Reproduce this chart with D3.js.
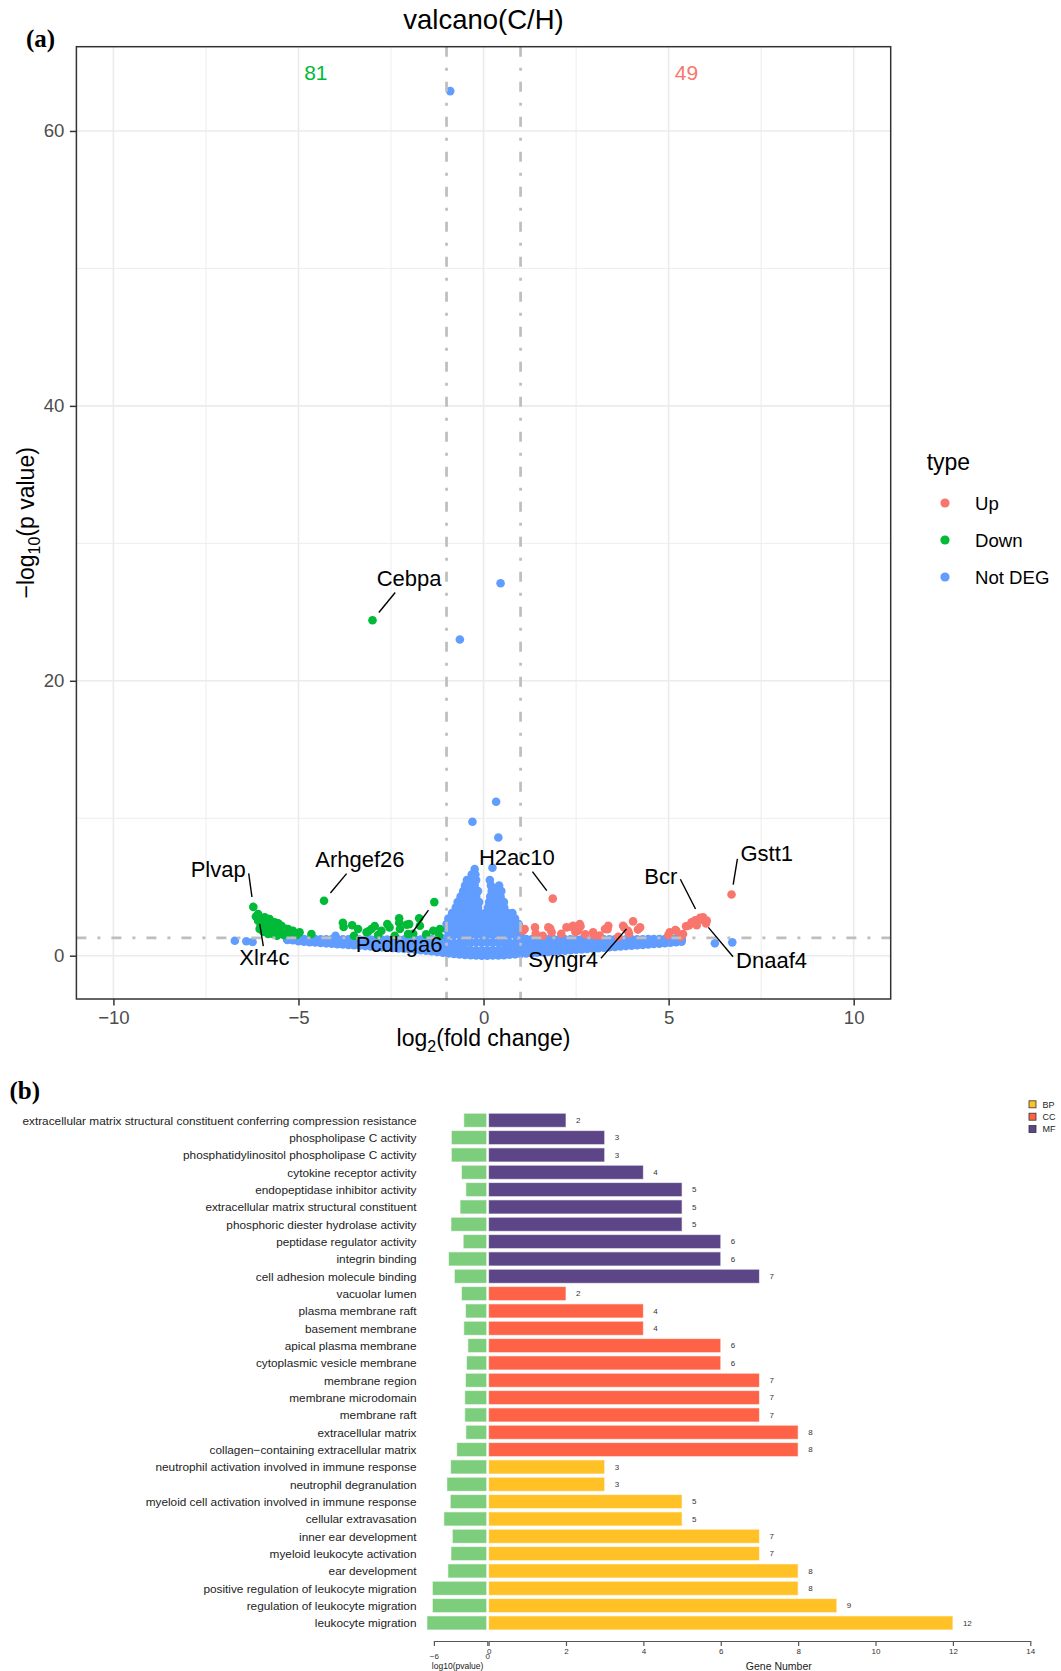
<!DOCTYPE html>
<html>
<head>
<meta charset="utf-8">
<script src="https://cdn.jsdelivr.net/npm/d3@7"></script>
<style>
  body { margin: 0; background: #fff; }
  svg { display: block; font-family: "Liberation Sans", Arial, sans-serif; }
</style>
</head>
<body>
<svg id="chart" width="1061" height="1671"></svg>
<script>
// ---------- panel (a) data : volcano ----------
const typeLevels = ["Up", "Down", "Not DEG"];
const typeColors = ["#F8766D", "#00BA38", "#619CFF"];
const downCount = 81, upCount = 49;
const fcCut = 1, pCut = 1.301;
const xTicks = [-10, -5, 0, 5, 10], xMinor = [-7.5, -2.5, 2.5, 7.5];
const yTicks = [0, 20, 40, 60], yMinor = [10, 30, 50];

const upPoints = [[1.07,1.81],[1.11,1.94],[1.39,2.06],[1.41,1.61],[1.60,1.45],[1.75,2.06],[1.80,1.98],[1.84,1.70],
  [2.10,1.60],[2.24,2.06],[2.38,2.10],[2.42,2.18],[2.48,1.73],[2.56,1.82],[2.60,2.30],[2.62,2.14],[2.75,1.55],
  [2.96,1.70],[2.98,1.49],[3.14,1.46],[3.28,1.94],[3.35,1.93],[3.37,2.18],[3.64,1.37],[3.77,2.18],[3.80,2.05],
  [3.90,1.82],[3.93,1.61],[4.04,2.50],[4.17,1.90],[4.23,2.06],[4.99,1.49],[5.03,1.70],[5.18,1.86],[5.21,1.82],
  [5.33,1.37],[5.39,1.58],[5.47,2.14],[5.55,2.20],[5.62,2.43],[5.72,2.58],[5.76,2.22],[5.85,2.75],[5.90,2.62],
  [5.93,2.79],[6.01,2.34],[6.03,2.55],[1.87,4.15],[6.70,4.45]];

const downPoints = [[-6.22,3.55],[-6.09,3.03],[-6.15,2.85],[-6.00,2.65],[-6.09,2.55],[-5.96,2.43],[-5.91,2.79],
  [-5.78,2.67],[-5.64,2.43],[-5.91,2.18],[-6.02,2.20],[-5.90,2.00],[-5.78,1.94],[-5.60,2.06],[-5.46,2.18],
  [-5.42,1.82],[-5.74,2.30],[-5.51,1.70],[-5.69,1.58],[-5.82,1.58],[-5.55,2.35],[-5.35,1.95],[-5.28,1.94],
  [-5.15,1.82],[-4.97,1.70],[-4.65,1.58],[-5.05,1.50],[-5.95,1.75],[-5.62,1.85],[-5.70,2.10],[-5.85,2.50],
  [-6.05,1.95],[-5.25,1.65],[-5.40,1.50],[-5.58,1.45],
  [-4.31,4.00],[-3.80,2.40],[-3.55,2.22],[-3.78,2.09],[-3.50,1.45],[-3.39,1.94],[-3.16,1.70],[-3.11,1.78],
  [-3.03,1.94],[-2.94,2.15],[-2.85,1.50],[-2.76,1.82],[-2.60,2.30],[-2.54,2.06],[-2.40,1.45],[-2.28,2.72],
  [-2.26,1.94],[-2.28,2.40],[-2.08,2.25],[-2.01,2.30],[-2.04,1.58],[-1.90,1.60],[-1.74,2.72],[-1.72,2.18],
  [-1.55,1.55],[-1.36,1.82],[-1.20,1.45],[-1.18,1.94],[-1.33,3.90],[-3.00,24.40]];

const notDegOutliers = [[-0.90,62.9],[0.46,27.1],[-0.64,23.0],[0.34,11.2],[-0.30,9.75],[0.40,8.6],[0.24,6.4],
  [-0.24,6.3],[-6.72,1.09],[-6.41,1.05],[-6.24,1.00],[6.25,0.90],[6.72,0.97],[-4.00,1.45]];

const notDegSpike = [
  [-1.0,1.9],[-0.85,1.9],[-0.7,1.9],[-0.55,1.9],[-0.4,1.9],[-0.25,1.9],[-0.1,1.9],[0.05,1.9],[0.2,1.9],[0.35,1.9],[0.5,1.9],[0.65,1.9],[0.8,1.9],[0.95,1.9],
  [-1.0,2.3],[-0.85,2.3],[-0.7,2.3],[-0.55,2.3],[-0.4,2.3],[-0.25,2.3],[-0.1,2.3],[0.05,2.3],[0.2,2.3],[0.35,2.3],[0.5,2.3],[0.65,2.3],[0.8,2.3],[0.95,2.3],
  [-0.95,2.7],[-0.8,2.7],[-0.65,2.7],[-0.5,2.7],[-0.35,2.7],[-0.2,2.7],[-0.05,2.7],[0.1,2.7],[0.25,2.7],[0.4,2.7],[0.55,2.7],[0.7,2.7],[0.85,2.7],
  [-0.85,3.1],[-0.7,3.1],[-0.55,3.1],[-0.4,3.1],[-0.25,3.1],[-0.1,3.1],[0.05,3.1],[0.2,3.1],[0.35,3.1],[0.5,3.1],[0.65,3.1],[0.78,3.1],
  [-0.75,3.5],[-0.6,3.5],[-0.45,3.5],[-0.3,3.5],[-0.15,3.5],[0.12,3.5],[0.27,3.5],[0.42,3.5],[0.56,3.5],
  [-0.7,3.9],[-0.55,3.9],[-0.4,3.9],[-0.25,3.9],[-0.12,3.9],[0.15,3.9],[0.3,3.9],[0.45,3.9],[0.55,3.9],
  [-0.62,4.3],[-0.48,4.3],[-0.34,4.3],[-0.2,4.3],[0.18,4.3],[0.32,4.3],[0.46,4.3],
  [-0.55,4.7],[-0.42,4.7],[-0.28,4.7],[-0.15,4.7],[0.22,4.7],[0.36,4.7],[0.48,4.7],
  [-0.5,5.1],[-0.37,5.1],[-0.24,5.1],[0.2,5.1],[0.42,5.1],
  [-0.45,5.5],[-0.32,5.5],[-0.2,5.5],[0.17,5.5],
  [-0.32,5.9],[-0.22,5.9]];

// dense band of non-significant genes, read column by column
const bandX = [-5.30,-5.15,-5.00,-4.85,-4.70,-4.55,-4.40,-4.25,-4.10,-3.95,-3.80,-3.65,-3.50,-3.35,-3.20,-3.05,
  -2.90,-2.75,-2.60,-2.45,-2.30,-2.15,-2.00,-1.85,-1.70,-1.55,-1.40,-1.25,-1.10,-0.95,-0.80,-0.65,-0.50,-0.35,
  -0.20,-0.05,0.10,0.25,0.40,0.55,0.70,0.85,1.00,1.15,1.30,1.45,1.60,1.75,1.90,2.05,2.20,2.35,2.50,2.65,2.80,
  2.95,3.10,3.25,3.40,3.55,3.70,3.85,4.00,4.15,4.30,4.45,4.60,4.75,4.90,5.05,5.20,5.35];
const bandLow = [1.15,1.12,1.05,1.02,0.99,0.96,0.93,0.90,0.87,0.84,0.81,0.78,0.76,0.73,0.70,0.67,0.64,0.62,0.59,
  0.56,0.53,0.50,0.47,0.44,0.40,0.36,0.32,0.27,0.22,0.17,0.13,0.09,0.06,0.03,0.01,0.00,0.00,0.01,0.02,0.04,0.07,
  0.10,0.13,0.16,0.19,0.22,0.25,0.28,0.31,0.34,0.37,0.40,0.43,0.46,0.49,0.52,0.55,0.58,0.61,0.64,0.67,0.70,0.73,
  0.76,0.79,0.82,0.85,0.88,0.91,0.94,0.98,1.02];
const bandMid1 = [1.18,1.16,1.12,1.10,1.08,1.05,1.03,1.00,0.98,0.96,0.94,0.92,0.90,0.88,0.86,0.84,0.82,0.80,0.78,
  0.76,0.74,0.72,0.70,0.68,0.66,0.63,0.60,0.57,0.54,0.50,0.48,0.46,0.44,0.42,0.40,0.40,0.40,0.41,0.42,0.44,0.46,
  0.48,0.50,0.52,0.54,0.56,0.58,0.60,0.62,0.64,0.66,0.68,0.70,0.72,0.74,0.76,0.78,0.80,0.82,0.84,0.86,0.88,0.90,
  0.92,0.94,0.96,0.98,1.00,1.02,1.05,1.08,1.10];
const bandMid2 = [1.20,1.19,1.17,1.16,1.15,1.13,1.12,1.10,1.09,1.08,1.07,1.06,1.04,1.03,1.02,1.01,1.00,0.99,0.98,
  0.97,0.96,0.95,0.94,0.93,0.92,0.91,0.90,0.89,0.88,0.90,0.92,0.94,0.96,0.96,0.96,0.96,0.96,0.96,0.96,0.95,0.94,
  0.92,0.90,0.88,0.88,0.88,0.89,0.90,0.91,0.92,0.93,0.94,0.95,0.96,0.97,0.98,0.99,1.00,1.01,1.02,1.03,1.04,1.05,
  1.06,1.07,1.08,1.09,1.10,1.12,1.14,1.16,1.18];
const bandHigh = [1.22,1.22,1.22,1.22,1.21,1.21,1.20,1.20,1.20,1.19,1.19,1.19,1.18,1.18,1.18,1.18,1.18,1.18,1.18,
  1.18,1.18,1.18,1.18,1.18,1.18,1.19,1.20,1.22,1.25,1.45,1.50,1.50,1.50,1.50,1.50,1.50,1.50,1.50,1.50,1.50,1.50,
  1.50,1.40,1.22,1.20,1.20,1.20,1.20,1.20,1.20,1.20,1.20,1.20,1.20,1.20,1.20,1.20,1.20,1.20,1.20,1.20,1.20,1.20,
  1.20,1.20,1.21,1.21,1.22,1.22,1.23,1.24,1.25];

const labelGenes = ["Cebpa", "Plvap", "Arhgef26", "H2ac10", "Bcr", "Gstt1", "Xlr4c", "Pcdhga6", "Syngr4", "Dnaaf4"];
const labelFC    = [-3.00, -6.22, -4.31, 1.87, 5.85, 6.70, -6.09, -1.33, 4.04, 5.90];
const labelLogP  = [24.40, 3.55, 4.00, 4.15, 2.75, 4.45, 3.03, 3.90, 2.50, 2.62];

// ---------- panel (b) data : GO enrichment ----------
const goTerms = [
  "extracellular matrix structural constituent conferring compression resistance",
  "phospholipase C activity",
  "phosphatidylinositol phospholipase C activity",
  "cytokine receptor activity",
  "endopeptidase inhibitor activity",
  "extracellular matrix structural constituent",
  "phosphoric diester hydrolase activity",
  "peptidase regulator activity",
  "integrin binding",
  "cell adhesion molecule binding",
  "vacuolar lumen",
  "plasma membrane raft",
  "basement membrane",
  "apical plasma membrane",
  "cytoplasmic vesicle membrane",
  "membrane region",
  "membrane microdomain",
  "membrane raft",
  "extracellular matrix",
  "collagen\u2212containing extracellular matrix",
  "neutrophil activation involved in immune response",
  "neutrophil degranulation",
  "myeloid cell activation involved in immune response",
  "cellular extravasation",
  "inner ear development",
  "myeloid leukocyte activation",
  "ear development",
  "positive regulation of leukocyte migration",
  "regulation of leukocyte migration",
  "leukocyte migration"];
const goCounts = [2,3,3,4,5,5,5,6,6,7, 2,4,4,6,6,7,7,7,8,8, 3,3,5,5,7,7,8,8,9,12];
const goLogP = [-2.64,-4.04,-4.04,-2.90,-2.41,-3.06,-4.08,-2.71,-4.35,-3.70,
  -2.90,-2.45,-2.64,-2.18,-2.34,-2.45,-2.53,-2.53,-2.41,-3.44,
  -4.12,-4.54,-4.16,-4.88,-3.93,-4.08,-4.43,-6.17,-6.17,-6.78];
const goClass = ["MF","MF","MF","MF","MF","MF","MF","MF","MF","MF",
  "CC","CC","CC","CC","CC","CC","CC","CC","CC","CC",
  "BP","BP","BP","BP","BP","BP","BP","BP","BP","BP"];
const classLevels = ["BP", "CC", "MF"];
const classColors = ["#FFC125", "#FF6347", "#5C4688"];
const pBarColor = "#7CCD7C";
const geneTicks = [0, 2, 4, 6, 8, 10, 12, 14];
const pTicks = [-6, 0];

// ---------- layout ----------
const A = { left: 76.4, right: 890.7, top: 46.7, bottom: 999 };
// label anchor in data units (centre x, baseline y) + where the leader leaves the label box (fraction x, fraction y)
const labelPlacement = {
  Cebpa:    [-2.01, 26.9, 0.30, 1],
  Plvap:    [-7.17, 5.70, 1, 0.59],
  Arhgef26: [-3.34, 6.45, 0.36, 1],
  H2ac10:   [0.90, 6.60, 0.69, 1],
  Bcr:      [4.79, 5.22, 1, 0.56],
  Gstt1:    [7.65, 6.89, 0, 0.66],
  Xlr4c:    [-5.92, -0.68, 0.48, 0],
  Pcdhga6:  [-2.28, 0.29, 0.64, 0],
  Syngr4:   [2.15, -0.80, 1, 0.41],
  Dnaaf4:   [7.78, -0.92, 0, 0.29]
};
const minus = d => d < 0 ? "\u2212" + Math.abs(d) : String(d);

const svg = d3.select("#chart");
svg.append("rect").attr("width", 1061).attr("height", 1671).attr("fill", "#fff");

// ================= panel (a) =================
const x = d3.scaleLinear().domain([-11, 11]).range([A.left, A.right]);
const y = d3.scaleLinear().domain([-3.15, 66.13]).range([A.bottom, A.top]);
const gA = svg.append("g");

// grid
gA.selectAll(".vminor").data(xMinor).join("line")
  .attr("x1", d => x(d)).attr("x2", d => x(d)).attr("y1", A.top).attr("y2", A.bottom)
  .attr("stroke", "#EBEBEB").attr("stroke-width", 0.9);
gA.selectAll(".hminor").data(yMinor).join("line")
  .attr("y1", d => y(d)).attr("y2", d => y(d)).attr("x1", A.left).attr("x2", A.right)
  .attr("stroke", "#EBEBEB").attr("stroke-width", 0.9);
gA.selectAll(".vmajor").data(xTicks).join("line")
  .attr("x1", d => x(d)).attr("x2", d => x(d)).attr("y1", A.top).attr("y2", A.bottom)
  .attr("stroke", "#EBEBEB").attr("stroke-width", 1.6);
gA.selectAll(".hmajor").data(yTicks).join("line")
  .attr("y1", d => y(d)).attr("y2", d => y(d)).attr("x1", A.left).attr("x2", A.right)
  .attr("stroke", "#EBEBEB").attr("stroke-width", 1.6);

// points
const bandPoints = [];
bandX.forEach((bx, i) => {
  [bandLow, bandMid1, bandMid2, bandHigh].forEach(arr => bandPoints.push([bx, arr[i]]));
});
const notDegPoints = bandPoints.concat(notDegSpike, notDegOutliers);

const layers = [[notDegPoints, typeColors[2]], [downPoints, typeColors[1]], [upPoints, typeColors[0]]];
layers.forEach(([pts, col]) => {
  gA.append("g").selectAll("circle").data(pts).join("circle")
    .attr("cx", d => x(d[0])).attr("cy", d => y(d[1])).attr("r", 4.3)
    .attr("fill", col);
});

// thresholds
const dash = "10,11,3,11";
[-fcCut, fcCut].forEach(v => {
  gA.append("line").attr("x1", x(v)).attr("x2", x(v)).attr("y1", A.top).attr("y2", A.bottom)
    .attr("stroke", "#BEBEBE").attr("stroke-width", 2.7).attr("stroke-dasharray", dash);
});
gA.append("line").attr("x1", A.left).attr("x2", A.right).attr("y1", y(pCut)).attr("y2", y(pCut))
  .attr("stroke", "#BEBEBE").attr("stroke-width", 2.7).attr("stroke-dasharray", dash);

// counts
gA.append("text").attr("x", x(-4.53)).attr("y", y(63.7)).attr("text-anchor", "middle")
  .attr("font-size", 21).attr("fill", typeColors[1]).text(downCount);
gA.append("text").attr("x", x(5.48)).attr("y", y(63.7)).attr("text-anchor", "middle")
  .attr("font-size", 21).attr("fill", typeColors[0]).text(upCount);

// gene labels with repel-style segments
labelGenes.forEach((g, i) => {
  const pos = labelPlacement[g];
  const base = y(pos[1]);
  const t = gA.append("text").attr("x", x(pos[0])).attr("y", base)
    .attr("text-anchor", "middle").attr("font-size", 22).attr("fill", "#000").text(g);
  const bb = t.node().getBBox();
  const bl = bb.x - 3, br = bb.x + bb.width + 3, bt = base - 19, bbot = base + 6.6;
  const sx = bl + pos[2] * (br - bl), sy = bt + pos[3] * (bbot - bt);
  const px = x(labelFC[i]), py = y(labelLogP[i]);
  const dx = px - sx, dy = py - sy, len = Math.hypot(dx, dy);
  if (len > 14) {
    gA.append("line").attr("x1", sx).attr("y1", sy)
      .attr("x2", px - dx / len * 10).attr("y2", py - dy / len * 10)
      .attr("stroke", "#000").attr("stroke-width", 1.4);
  }
});

// border
gA.append("rect").attr("x", A.left).attr("y", A.top)
  .attr("width", A.right - A.left).attr("height", A.bottom - A.top)
  .attr("fill", "none").attr("stroke", "#333333").attr("stroke-width", 1.5);

// axes
const styleAxis = (g, size) => {
  g.select(".domain").remove();
  g.attr("font-family", null).attr("font-size", null);
  g.selectAll(".tick line").attr("stroke", "#333333").attr("stroke-width", 1.5);
  g.selectAll(".tick text").attr("fill", "#4D4D4D").attr("font-size", size);
};
gA.append("g").attr("transform", `translate(0,${A.bottom})`)
  .call(d3.axisBottom(x).tickValues(xTicks).tickFormat(minus).tickSize(6.5).tickPadding(5.5))
  .call(g => styleAxis(g, 18.6));
gA.append("g").attr("transform", `translate(${A.left},0)`)
  .call(d3.axisLeft(y).tickValues(yTicks).tickFormat(minus).tickSize(6.5).tickPadding(5.5))
  .call(g => styleAxis(g, 18.6));

// titles
gA.append("text").attr("x", (A.left + A.right) / 2).attr("y", 29).attr("text-anchor", "middle")
  .attr("font-size", 27.5).attr("fill", "#000").text("valcano(C/H)");

const xt = gA.append("text").attr("x", (A.left + A.right) / 2).attr("y", 1046)
  .attr("text-anchor", "middle").attr("font-size", 23).attr("fill", "#000");
xt.append("tspan").text("log");
xt.append("tspan").attr("font-size", 16).attr("dy", 6).text("2");
xt.append("tspan").attr("dy", -6).text("(fold change)");

const yt = gA.append("text").attr("transform", `translate(34,${(A.top + A.bottom) / 2}) rotate(-90)`)
  .attr("text-anchor", "middle").attr("font-size", 23).attr("fill", "#000");
yt.append("tspan").text("\u2212log");
yt.append("tspan").attr("font-size", 16).attr("dy", 6).text("10");
yt.append("tspan").attr("dy", -6).text("(p value)");

// legend
gA.append("text").attr("x", 926.7).attr("y", 470).attr("font-size", 23).attr("fill", "#000").text("type");
typeLevels.forEach((lv, i) => {
  const cy = 503 + i * 37;
  gA.append("circle").attr("cx", 945).attr("cy", cy).attr("r", 4.6).attr("fill", typeColors[i]);
  gA.append("text").attr("x", 975).attr("y", cy + 6.6).attr("font-size", 18.6).attr("fill", "#000").text(lv);
});

// panel letter
svg.append("text").attr("x", 26).attr("y", 47).attr("font-family", "'Liberation Serif', 'Times New Roman', serif")
  .attr("font-weight", "bold").attr("font-size", 25).text("(a)");

// ================= panel (b) =================
const gB = svg.append("g");
const rowY = d3.scaleBand().domain(goTerms).range([1111.6, 1631.6]).paddingInner(0.19).paddingOuter(0.095);
const geneX = d3.scaleLinear().domain([0, 14]).range([488.6, 1030.3]);
const pX = d3.scaleLinear().domain([-6, 0]).range([433.9, 487.3]);
const classColor = d3.scaleOrdinal().domain(classLevels).range(classColors);

goTerms.forEach((term, i) => {
  const y0 = rowY(term), h = rowY.bandwidth();
  gB.append("rect").attr("x", pX(goLogP[i])).attr("y", y0)
    .attr("width", pX(0) - pX(goLogP[i]) - 0.6).attr("height", h)
    .attr("fill", pBarColor).attr("stroke", "#fff").attr("stroke-opacity", 0.6).attr("stroke-width", 1);
  gB.append("rect").attr("x", geneX(0)).attr("y", y0)
    .attr("width", geneX(goCounts[i]) - geneX(0)).attr("height", h)
    .attr("fill", classColor(goClass[i])).attr("stroke", "#fff").attr("stroke-opacity", 0.6).attr("stroke-width", 1);
  gB.append("text").attr("x", 416.5).attr("y", y0 + h / 2).attr("dy", "0.36em")
    .attr("text-anchor", "end").attr("font-size", 11.8).attr("fill", "#222").text(term);
  gB.append("text").attr("x", geneX(goCounts[i]) + 10).attr("y", y0 + h / 2).attr("dy", "0.36em")
    .attr("font-size", 8).attr("fill", "#333").text(goCounts[i]);
});

const axisY = 1641;
const styleSmall = (g) => {
  g.attr("font-family", null).attr("font-size", null);
  g.select(".domain").attr("stroke", "#555").attr("stroke-width", 1.2);
  g.selectAll(".tick line").attr("stroke", "#555").attr("stroke-width", 1.2);
  g.selectAll(".tick text").attr("fill", "#333").attr("font-size", 8);
};
gB.append("g").attr("transform", `translate(0,${axisY})`)
  .call(d3.axisBottom(geneX).tickValues(geneTicks).tickSize(5).tickSizeOuter(0).tickPadding(2))
  .call(styleSmall);
gB.append("g").attr("transform", `translate(0,${axisY})`)
  .call(d3.axisBottom(pX).tickValues(pTicks).tickFormat(minus).tickSize(5).tickSizeOuter(0).tickPadding(7.5))
  .call(styleSmall);

gB.append("text").attr("x", 457.6).attr("y", 1668.5).attr("text-anchor", "middle")
  .attr("font-size", 8.5).attr("fill", "#222").text("log10(pvalue)");
gB.append("text").attr("x", 778.8).attr("y", 1669.5).attr("text-anchor", "middle")
  .attr("font-size", 10.5).attr("fill", "#222").text("Gene Number");

// legend (b)
classLevels.forEach((c, i) => {
  const cy = 1104.3 + i * 12.4;
  gB.append("rect").attr("x", 1029).attr("y", cy - 3.5).attr("width", 7).attr("height", 7)
    .attr("fill", classColors[i]).attr("stroke", "#333").attr("stroke-width", 0.8);
  gB.append("text").attr("x", 1042.5).attr("y", cy + 3.2).attr("font-size", 9).attr("fill", "#222").text(c);
});

svg.append("text").attr("x", 9.5).attr("y", 1099).attr("font-family", "'Liberation Serif', 'Times New Roman', serif")
  .attr("font-weight", "bold").attr("font-size", 25).text("(b)");
</script>
</body>
</html>
